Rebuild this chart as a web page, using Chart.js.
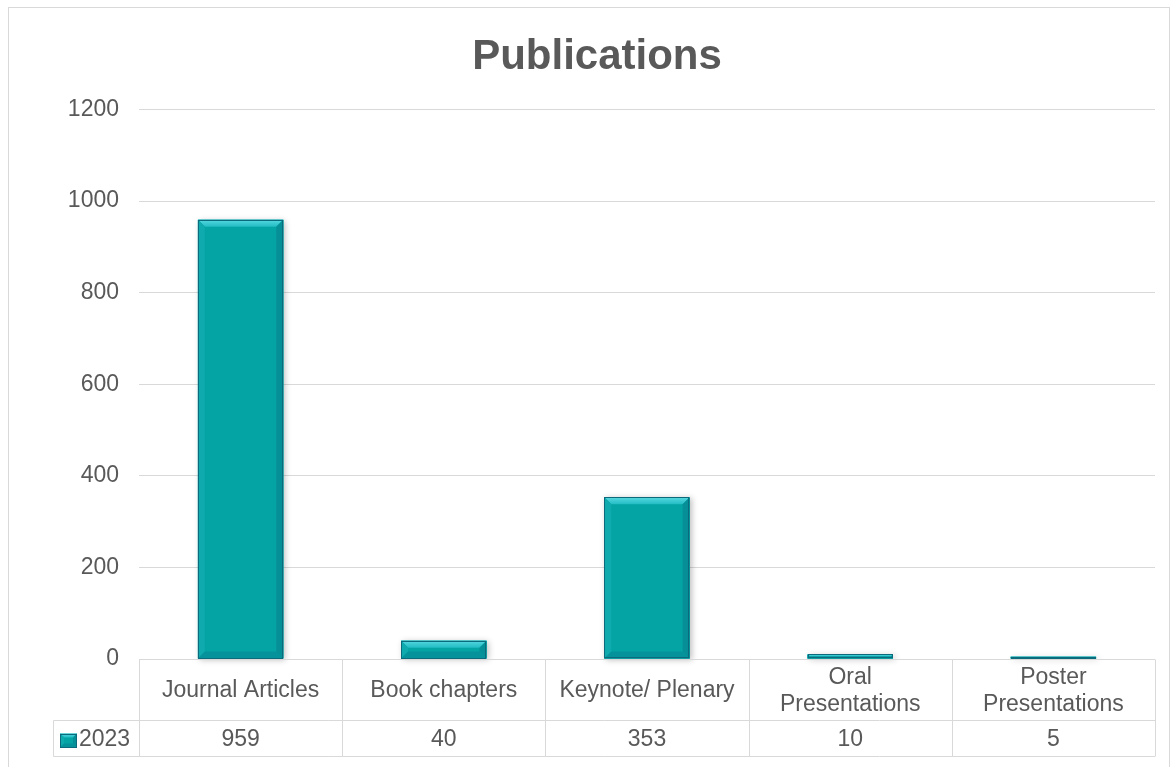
<!DOCTYPE html>
<html>
<head>
<meta charset="utf-8">
<script src="https://cdn.jsdelivr.net/npm/chart.js@4/dist/chart.umd.min.js"></script>
<style>
  html, body { margin: 0; padding: 0; background: #fff; }
  #wrap { width: 1173px; height: 767px; position: relative; }
</style>
</head>
<body>
<div id="wrap"><canvas id="pubs" width="1173" height="767"></canvas></div>
<script>
// data
const categories = ["Journal Articles", "Book chapters", "Keynote/ Plenary", ["Oral", "Presentations"], ["Poster", "Presentations"]];
const seriesName = "2023";
const values2023 = [959, 40, 353, 10, 5];
const yTicks = [0, 200, 400, 600, 800, 1000, 1200];

const FONT = '"Liberation Sans", Arial, sans-serif';
const TEXT = "#595959";
const LINE = "#d9d9d9";

// draws a bevelled box like the Excel bar style
function bevelBox(ctx, l, t, r, b, bev) {
    const h = b - t, w = r - l;
    const d = Math.min(bev, h / 2, w / 2);
    ctx.save();
    ctx.fillStyle = "#04a3a4";
    ctx.fillRect(l, t, w, h);
    // top face
    let g = ctx.createLinearGradient(0, t, 0, t + d);
    g.addColorStop(0, "#58d8e0");
    g.addColorStop(1, "#22bcc4");
    ctx.fillStyle = g;
    ctx.beginPath();
    ctx.moveTo(l, t); ctx.lineTo(r, t); ctx.lineTo(r - d, t + d); ctx.lineTo(l + d, t + d); ctx.closePath();
    ctx.fill();
    // left face
    ctx.fillStyle = "#0eaaad";
    ctx.beginPath();
    ctx.moveTo(l, t); ctx.lineTo(l + d, t + d); ctx.lineTo(l + d, b - d); ctx.lineTo(l, b); ctx.closePath();
    ctx.fill();
    // right face
    ctx.fillStyle = "#078f97";
    ctx.beginPath();
    ctx.moveTo(r, t); ctx.lineTo(r - d, t + d); ctx.lineTo(r - d, b - d); ctx.lineTo(r, b); ctx.closePath();
    ctx.fill();
    // bottom face
    ctx.fillStyle = "#05929a";
    ctx.beginPath();
    ctx.moveTo(l, b); ctx.lineTo(l + d, b - d); ctx.lineTo(r - d, b - d); ctx.lineTo(r, b); ctx.closePath();
    ctx.fill();
    ctx.strokeStyle = "#0b6a7c";
    ctx.lineWidth = 1;
    ctx.strokeRect(Math.round(l) + 0.5, Math.round(t) + 0.5, Math.round(w) - 1, Math.round(h) - 1);
    ctx.restore();
}

const bevelBars = {
    id: "bevelBars",
    afterDatasetsDraw(chart) {
        const ctx = chart.ctx;
        chart.getDatasetMeta(0).data.forEach((bar) => {
            const p = bar.getProps(["x", "y", "base", "width"], true);
            ctx.save();
            ctx.shadowColor = "rgba(0,0,0,0.25)";
            ctx.shadowBlur = 6;
            ctx.shadowOffsetX = 2;
            ctx.shadowOffsetY = 1;
            ctx.fillStyle = "#04a3a4";
            ctx.fillRect(p.x - p.width / 2, p.y, p.width, p.base - p.y);
            ctx.restore();
            bevelBox(ctx, p.x - p.width / 2, p.y, p.x + p.width / 2, p.base, 7);
        });
    }
};

const frameAndTable = {
    id: "frameAndTable",
    beforeDraw(chart) {
        const ctx = chart.ctx;
        ctx.save();
        ctx.strokeStyle = LINE;
        ctx.lineWidth = 1;
        ctx.strokeRect(8.5, 7.5, 1161, 800);
        ctx.restore();
    },
    afterDraw(chart) {
        const ctx = chart.ctx, x = chart.scales.x, area = chart.chartArea;
        const step = x.getPixelForValue(1) - x.getPixelForValue(0);
        const top = Math.round(area.bottom) + 0.5;
        const mid = top + 61, bot = top + 97;
        const keyLeft = 53.5;
        ctx.save();
        ctx.strokeStyle = LINE;
        ctx.lineWidth = 1;
        ctx.beginPath();
        ctx.moveTo(area.left, top); ctx.lineTo(area.right, top);
        ctx.moveTo(keyLeft, mid); ctx.lineTo(area.right, mid);
        ctx.moveTo(keyLeft, bot); ctx.lineTo(area.right, bot);
        ctx.moveTo(keyLeft, mid); ctx.lineTo(keyLeft, bot);
        for (let i = 0; i <= categories.length; i++) {
            const xp = Math.round(x.getPixelForValue(i) - step / 2) + 0.5;
            ctx.moveTo(xp, top); ctx.lineTo(xp, bot);
        }
        ctx.stroke();

        ctx.fillStyle = TEXT;
        ctx.font = "23px " + FONT;
        ctx.textAlign = "center";
        ctx.textBaseline = "middle";
        categories.forEach((c, i) => {
            const cx = x.getPixelForValue(i);
            const lines = Array.isArray(c) ? c : [c];
            const lh = 27;
            const y0 = (top + mid) / 2 - (lines.length - 1) * lh / 2 + 1;
            lines.forEach((s, j) => ctx.fillText(s, cx, y0 + j * lh));
            ctx.fillText(String(values2023[i]), cx, (mid + bot) / 2 + 1);
        });
        // legend key and series name
        bevelBox(ctx, 60, mid + 13, 77, mid + 27, 4);
        ctx.textAlign = "left";
        ctx.fillText(seriesName, 79, (mid + bot) / 2 + 1);
        ctx.restore();
    }
};

const ctx = document.getElementById("pubs").getContext("2d");
const chart = new Chart(ctx, {
    type: "bar",
    data: {
        labels: categories,
        datasets: [{
            label: seriesName,
            data: values2023,
            backgroundColor: "#04a3a4",
            borderWidth: 0,
            categoryPercentage: 1,
            barPercentage: 0.42
        }]
    },
    options: {
        responsive: false,
        animation: false,
        events: [],
        layout: { padding: { top: 7, left: 39, right: 18, bottom: 0 } },
        plugins: {
            legend: { display: false },
            tooltip: { enabled: false },
            title: {
                display: true,
                text: "Publications",
                color: TEXT,
                font: { family: FONT, size: 42, weight: "bold" },
                padding: { top: 25, bottom: 27 }
            }
        },
        scales: {
            x: {
                ticks: { display: false },
                grid: { display: false },
                border: { display: false },
                afterFit(s) { s.height = 108; }
            },
            y: {
                min: 0,
                max: 1200,
                afterBuildTicks(s) { s.ticks = yTicks.map((v) => ({ value: v })); },
                ticks: { color: TEXT, font: { family: FONT, size: 23 }, padding: 20, callback: (v) => String(v) },
                grid: { color: LINE, drawTicks: false },
                border: { display: false },
                afterFit(s) { s.width = 100; }
            }
        }
    },
    plugins: [frameAndTable, bevelBars]
});
</script>
</body>
</html>
